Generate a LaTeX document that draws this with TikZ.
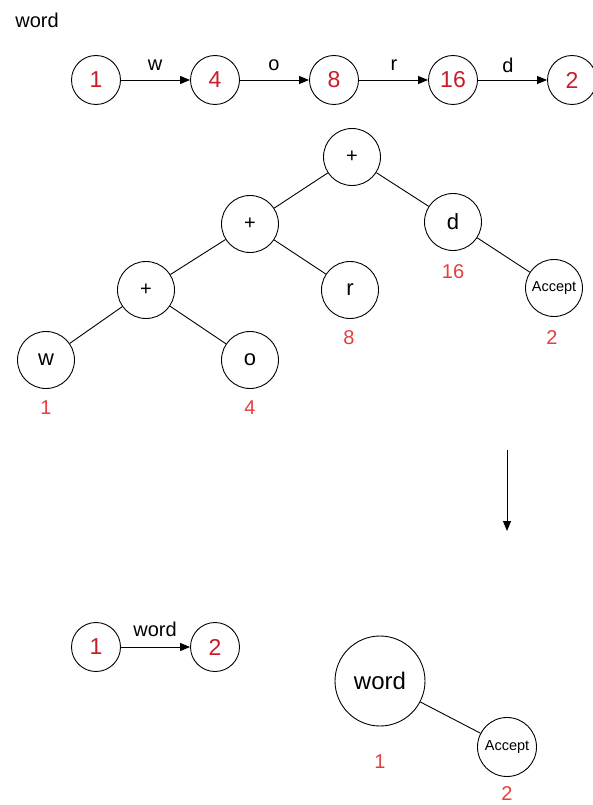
\documentclass[tikz,border=0pt]{standalone}
\usepackage{fontspec}
\setmainfont{Liberation Sans}
\usetikzlibrary{arrows.meta}
\definecolor{dred}{RGB}{200,28,40}
\definecolor{lred}{RGB}{228,62,62}
\tikzset{
  st/.style={circle,draw,line width=0.9pt,minimum size=49pt,inner sep=0pt,text=dred,font=\fontsize{23}{23}\selectfont},
  tn/.style={circle,draw,line width=0.9pt,minimum size=57pt,inner sep=0pt,font=\fontsize{22}{22}\selectfont},
  pn/.style={tn,font=\fontsize{20}{20}\selectfont},
  an/.style={tn,font=\fontsize{14.5}{14.5}\selectfont},
  lab/.style={text=lred,font=\fontsize{20}{20}\selectfont,inner sep=0pt},
  el/.style={font=\fontsize{20}{20}\selectfont,inner sep=0pt},
  arr/.style={-{Triangle[length=10pt,width=8pt]},line width=0.9pt},
  ln/.style={line width=0.9pt}
}
\begin{document}
\begin{tikzpicture}[x=1pt,y=-1pt]
\useasboundingbox (0,0) rectangle (593,805);
\node[el] (title) at (37,20) {word};
% top automaton
\node[st] (s1) at (96,80) {1};
\node[st] (s4) at (215,80) {4};
\node[st] (s8) at (334,80) {8};
\node[st] (s16) at (453,80) {16};
\node[st] (s2) at (572,80) {2};
\draw[arr] (s1) -- (s4);
\draw[arr] (s4) -- (s8);
\draw[arr] (s8) -- (s16);
\draw[arr] (s16) -- (s2);
\node[el] (lw) at (155,65) {w};
\node[el] (lo) at (274,65) {o};
\node[el] (lr) at (394,65) {r};
\node[el] (ld) at (508,65) {d};
% tree
\node[pn] (p1) at (352,157) {+};
\node[pn] (p2) at (250,224) {+};
\node[tn] (nd) at (453,222) {d};
\node[pn] (p3) at (146,290) {+};
\node[tn] (nr) at (350,290) {r};
\node[an] (na) at (554,288) {Accept};
\node[tn] (nw) at (46,360) {w};
\node[tn] (no) at (250,360) {o};
\draw[ln] (p1) -- (p2);
\draw[ln] (p1) -- (nd);
\draw[ln] (p2) -- (p3);
\draw[ln] (p2) -- (nr);
\draw[ln] (nd) -- (na);
\draw[ln] (p3) -- (nw);
\draw[ln] (p3) -- (no);
\node[lab] (l16) at (453,272) {16};
\node[lab] (l8) at (349,338) {8};
\node[lab] (l2) at (552,338) {2};
\node[lab] (l1) at (46,408) {1};
\node[lab] (l4) at (250,408) {4};
% down arrow
\coordinate (da) at (507,450);
\coordinate (db) at (507,531);
\draw[arr] (da) -- (db);
% bottom automaton
\node[st] (b1) at (96,647) {1};
\node[st] (b2) at (215,647) {2};
\draw[arr] (b1) -- (b2);
\node[el] (lword) at (155,629) {word};
% bottom tree
\node[circle,draw,line width=0.9pt,minimum size=90pt,inner sep=0pt,font=\fontsize{24}{24}\selectfont] (bw) at (380,681) {word};
\node[an,minimum size=59pt] (ba) at (507,747) {Accept};
\draw[ln] (bw) -- (ba);
\node[lab] (bl1) at (380,762) {1};
\node[lab] (bl2) at (507,794) {2};
\end{tikzpicture}
\end{document}
